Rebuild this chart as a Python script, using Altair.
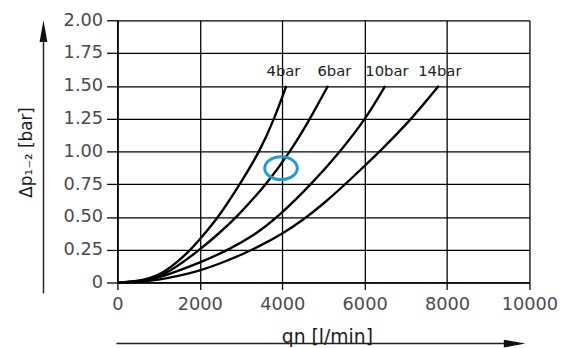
import altair as alt
import pandas as pd

# ---- data ----
q_4bar = [0, 500, 1000, 1400, 1780, 2000, 2460, 2975, 3455, 3810, 4100]
dp_4bar = [0, 0.008, 0.05, 0.14, 0.25, 0.33, 0.5, 0.75, 1.0, 1.25, 1.5]

q_6bar = [0, 500, 1000, 1400, 2000, 2450, 2900, 3620, 4200, 4680, 5110]
dp_6bar = [0, 0.006, 0.04, 0.11, 0.25, 0.37, 0.5, 0.75, 1.0, 1.25, 1.5]

q_10bar = [0, 500, 1000, 1400, 2000, 2700, 3300, 3900, 4710, 5410, 6030, 6500]
dp_10bar = [0, 0.005, 0.035, 0.08, 0.15, 0.25, 0.355, 0.5, 0.75, 1.0, 1.25, 1.5]

q_14bar = [0, 500, 1000, 1500, 2000, 2500, 3000, 3500, 4000, 4500, 5000, 5500, 6000, 6370, 7150, 7800]
dp_14bar = [0, 0.003, 0.02, 0.05, 0.09, 0.145, 0.21, 0.285, 0.37, 0.475, 0.6, 0.74, 0.89, 1.0, 1.25, 1.5]

series_names = ["4bar", "6bar", "10bar", "14bar"]
label_q = [4030, 5265, 6540, 7825]
label_dp = [1.61, 1.61, 1.61, 1.61]

marker_q = [3970]
marker_dp = [0.872]

x_ticks = [0, 2000, 4000, 6000, 8000, 10000]
y_ticks = [0, 0.25, 0.5, 0.75, 1.0, 1.25, 1.5, 1.75, 2.0]

x_title = "qn [l/min]"
y_title = "Δp₁₋₂ [bar]"

# ---- tables ----
rows = []
for name, qs, dps in zip(series_names,
                         [q_4bar, q_6bar, q_10bar, q_14bar],
                         [dp_4bar, dp_6bar, dp_10bar, dp_14bar]):
    for q, dp in zip(qs, dps):
        rows.append({"series": name, "q": q, "dp": dp})
curves = pd.DataFrame(rows)
labels = pd.DataFrame({"text": series_names, "q": label_q, "dp": label_dp})
marker = pd.DataFrame({"q": marker_q, "dp": marker_dp})
one = pd.DataFrame({"k": [0]})

FONT = "DejaVu Sans"

xscale = alt.Scale(domain=[0, 10000], nice=False)
yscale = alt.Scale(domain=[0, 2], nice=False)

xaxis = alt.Axis(values=x_ticks, format="d", grid=True, gridColor="black",
                 gridOpacity=1, gridWidth=1.3, domainColor="black", domainWidth=1.6,
                 tickColor="black", tickWidth=1.3, tickSize=7, labelFontSize=18,
                 labelColor="#4a4a4a", labelFont=FONT, labelPadding=6,
                 labelFlush=False, labelOverlap=False, title=None)
yaxis = alt.Axis(values=y_ticks, labelExpr="datum.value == 0 ? '0' : format(datum.value, '.2f')",
                 grid=True, gridColor="black", gridOpacity=1, gridWidth=1.3,
                 domainColor="black", domainWidth=1.6, tickColor="black", tickWidth=1.3,
                 tickSize=11, labelFontSize=18, labelColor="#4a4a4a", labelFont=FONT,
                 labelPadding=4, labelFlush=False, labelOverlap=False, title=None)


def X():
    return alt.X("q:Q", scale=xscale, axis=xaxis)


def Y():
    return alt.Y("dp:Q", scale=yscale, axis=yaxis)


lines = alt.Chart(curves).mark_line(color="black", strokeWidth=2.4, interpolate="basis").encode(
    x=X(), y=Y(), detail="series:N",
)

curve_labels = alt.Chart(labels).mark_text(fontSize=15, font=FONT, color="#222222",
                                           baseline="middle", align="center").encode(
    x=X(), y=Y(), text="text:N")

ellipse = alt.Chart(marker).mark_point(
    shape="M -1 0 A 1 0.7 0 1 1 1 0 A 1 0.7 0 1 1 -1 0 Z",
    size=1089, filled=False, stroke="#1e9bd7", strokeWidth=3, opacity=1).encode(
    x=X(), y=Y())

xt = alt.Chart(one).mark_text(text=x_title, fontSize=19, font=FONT, color="#1a1a1a",
                              align="center", baseline="middle").encode(
    x=alt.value(213), y=alt.value(321))
yt = alt.Chart(one).mark_text(text=y_title, fontSize=17, font=FONT, color="#1a1a1a",
                              align="center", baseline="middle", angle=270).encode(
    x=alt.value(-92), y=alt.value(134))

y_arrow_line = alt.Chart(one).mark_rule(color="#222222", strokeWidth=1.5).encode(
    x=alt.value(-75), y=alt.value(18), y2=alt.value(277))
y_arrow_head = alt.Chart(one).mark_point(
    shape="M 0 -1 L 0.36 1 L -0.36 1 Z", size=484, filled=True, color="#111111", opacity=1).encode(
    x=alt.value(-75), y=alt.value(11))
x_arrow_line = alt.Chart(one).mark_rule(color="#222222", strokeWidth=1.5).encode(
    x=alt.value(-1), x2=alt.value(405), y=alt.value(328))
x_arrow_head = alt.Chart(one).mark_point(
    shape="M 1 0 L -1 -0.36 L -1 0.36 Z", size=484, filled=True, color="#111111", opacity=1).encode(
    x=alt.value(403), y=alt.value(328))

chart = alt.layer(lines, curve_labels, ellipse, xt, yt,
                  y_arrow_line, y_arrow_head, x_arrow_line, x_arrow_head).properties(
    width=418, height=266,
    autosize=alt.AutoSizeParams(type="none"),
    padding={"left": 111, "top": 10, "right": 31, "bottom": 64},
    background="white",
).configure_view(stroke=None)

chart.save("out.html", embed_options={"renderer": "svg", "actions": False})
